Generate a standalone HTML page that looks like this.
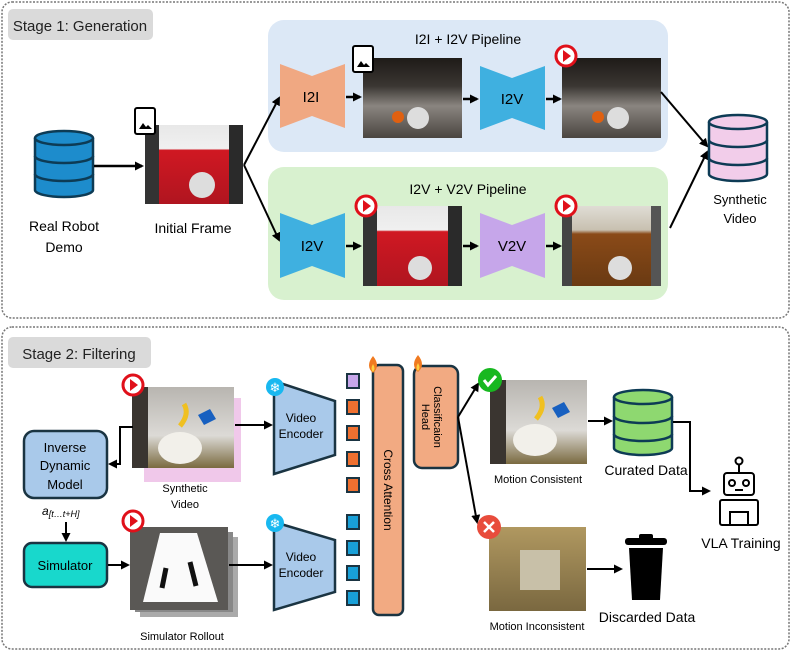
<!DOCTYPE html>
<html><head><meta charset="utf-8"><style>
body{margin:0;background:#fff}
svg text{font-family:"Liberation Sans",sans-serif}
</style></head><body>
<svg width="793" height="654" viewBox="0 0 793 654" xmlns="http://www.w3.org/2000/svg">
<defs>
<marker id="ah" markerWidth="9" markerHeight="9" refX="7" refY="4.5" orient="auto" markerUnits="userSpaceOnUse"><path d="M0,0 L9,4.5 L0,9 z" fill="#000"/></marker>
<linearGradient id="kit" x1="0" y1="0" x2="0" y2="1"><stop offset="0" stop-color="#1e1b18"/><stop offset="0.35" stop-color="#3a3632"/><stop offset="0.6" stop-color="#8a8580"/><stop offset="1" stop-color="#4a4540"/></linearGradient>
<linearGradient id="red" x1="0" y1="0" x2="0" y2="1"><stop offset="0" stop-color="#e8e8e8"/><stop offset="0.3" stop-color="#f0f0f0"/><stop offset="0.32" stop-color="#d01822"/><stop offset="1" stop-color="#b01520"/></linearGradient>
<linearGradient id="brown" x1="0" y1="0" x2="0" y2="1"><stop offset="0" stop-color="#e0ddd5"/><stop offset="0.3" stop-color="#c8c0b0"/><stop offset="0.35" stop-color="#8a4a18"/><stop offset="1" stop-color="#6a3a12"/></linearGradient>
<linearGradient id="tab" x1="0" y1="0" x2="0" y2="1"><stop offset="0" stop-color="#b8b5b0"/><stop offset="0.6" stop-color="#dcdad6"/><stop offset="1" stop-color="#7a6a40"/></linearGradient>
<linearGradient id="sand" x1="0" y1="0" x2="0" y2="1"><stop offset="0" stop-color="#b09860"/><stop offset="1" stop-color="#7a6840"/></linearGradient>
</defs>
<!-- Stage 1 -->
<rect x="2" y="2" width="787" height="316" rx="10" fill="#fff" stroke="#777" stroke-width="1.5" stroke-dasharray="2,1.5"/>
<rect x="8" y="9" width="145" height="31" rx="5" fill="#dadada"/>
<text x="80" y="31" font-size="15" text-anchor="middle" fill="#222">Stage 1: Generation</text>
<rect x="268" y="20" width="400" height="132" rx="16" fill="#dce8f6"/>
<rect x="268" y="167" width="400" height="133" rx="16" fill="#d8f1cf"/>
<text x="468" y="44" font-size="14" text-anchor="middle">I2I + I2V Pipeline</text>
<text x="468" y="194" font-size="14" text-anchor="middle">I2V + V2V Pipeline</text>
<!-- real robot db -->
<g stroke="#0d3b55" stroke-width="2.5" fill="#1d8ccc">
<path d="M35,138 v52 a29,7 0 0 0 58,0 v-52"/><ellipse cx="64" cy="138" rx="29" ry="7"/>
<path d="M35,156 a29,7 0 0 0 58,0 M35,174 a29,7 0 0 0 58,0" fill="none"/></g>
<text x="64" y="231" font-size="14" text-anchor="middle">Real Robot</text>
<text x="64" y="252" font-size="14" text-anchor="middle">Demo</text>
<line x1="94" y1="166" x2="142" y2="166" stroke="#000" stroke-width="2.5" marker-end="url(#ah)"/>
<rect x="145" y="125" width="98" height="79" fill="url(#red)"/>
<rect x="145" y="125" width="14" height="79" fill="#333"/><rect x="229" y="125" width="14" height="79" fill="#2a2a2a"/>
<ellipse cx="202" cy="185" rx="13" ry="13" fill="#ddd"/>
<rect x="135" y="108" width="20" height="26" rx="2" fill="#fff" stroke="#000" stroke-width="2"/><path d="M139,129 l4,-6 3,4 2,-2 4,4z" fill="#000"/>
<text x="193" y="233" font-size="14" text-anchor="middle">Initial Frame</text>
<line x1="244" y1="165" x2="279" y2="98" stroke="#000" stroke-width="2" marker-end="url(#ah)"/>
<line x1="244" y1="165" x2="279" y2="240" stroke="#000" stroke-width="2" marker-end="url(#ah)"/>
<!-- top row -->
<path d="M280,64 L312,76 L345,64 L345,128 L312,116 L280,128z" fill="#f0a882"/>
<text x="311" y="102" font-size="15" text-anchor="middle">I2I</text>
<line x1="346" y1="97" x2="360" y2="97" stroke="#000" stroke-width="2.5" marker-end="url(#ah)"/>
<rect x="363" y="58" width="99" height="80" fill="url(#kit)"/>
<circle cx="398" cy="117" r="6" fill="#e06010"/><circle cx="418" cy="118" r="11" fill="#ddd"/>
<rect x="353" y="46" width="20" height="26" rx="2" fill="#fff" stroke="#000" stroke-width="2"/><path d="M357,67 l4,-6 3,4 2,-2 4,4z" fill="#000"/>
<line x1="463" y1="99" x2="477" y2="99" stroke="#000" stroke-width="2.5" marker-end="url(#ah)"/>
<path d="M480,66 L512,78 L545,66 L545,130 L512,118 L480,130z" fill="#3fb0e0"/>
<text x="512" y="104" font-size="15" text-anchor="middle">I2V</text>
<line x1="546" y1="99" x2="560" y2="99" stroke="#000" stroke-width="2.5" marker-end="url(#ah)"/>
<rect x="562" y="58" width="99" height="80" fill="url(#kit)"/>
<circle cx="598" cy="117" r="6" fill="#e06010"/><circle cx="618" cy="118" r="11" fill="#ddd"/>
<!-- bottom row -->
<path d="M280,213 L312,225 L345,213 L345,278 L312,266 L280,278z" fill="#3fb0e0"/>
<text x="312" y="251" font-size="15" text-anchor="middle">I2V</text>
<line x1="346" y1="246" x2="360" y2="246" stroke="#000" stroke-width="2.5" marker-end="url(#ah)"/>
<rect x="363" y="206" width="99" height="80" fill="url(#red)"/>
<rect x="363" y="206" width="14" height="80" fill="#333"/><rect x="448" y="206" width="14" height="80" fill="#2a2a2a"/>
<circle cx="420" cy="268" r="12" fill="#ddd"/>
<line x1="463" y1="246" x2="477" y2="246" stroke="#000" stroke-width="2.5" marker-end="url(#ah)"/>
<path d="M480,213 L512,225 L545,213 L545,278 L512,266 L480,278z" fill="#c6a6ea"/>
<text x="512" y="251" font-size="15" text-anchor="middle">V2V</text>
<line x1="546" y1="246" x2="560" y2="246" stroke="#000" stroke-width="2.5" marker-end="url(#ah)"/>
<rect x="562" y="206" width="99" height="80" fill="url(#brown)"/>
<rect x="562" y="206" width="10" height="80" fill="#444"/><rect x="651" y="206" width="10" height="80" fill="#555"/>
<circle cx="620" cy="268" r="12" fill="#ddd"/>
<!-- play icons -->
<g><circle cx="566" cy="56" r="10" fill="#fff" stroke="#e0101a" stroke-width="3"/><path d="M563,50 l8,6 -8,6z" fill="#e0101a"/></g>
<g><circle cx="366" cy="206" r="10" fill="#fff" stroke="#e0101a" stroke-width="3"/><path d="M363,200 l8,6 -8,6z" fill="#e0101a"/></g>
<g><circle cx="566" cy="206" r="10" fill="#fff" stroke="#e0101a" stroke-width="3"/><path d="M563,200 l8,6 -8,6z" fill="#e0101a"/></g>
<line x1="661" y1="92" x2="707" y2="146" stroke="#000" stroke-width="2" marker-end="url(#ah)"/>
<line x1="670" y1="228" x2="707" y2="152" stroke="#000" stroke-width="2" marker-end="url(#ah)"/>
<g stroke="#0d3b55" stroke-width="2.5" fill="#f2cdea">
<path d="M709,122 v52 a29,7 0 0 0 58,0 v-52"/><ellipse cx="738" cy="122" rx="29" ry="7"/>
<path d="M709,140 a29,7 0 0 0 58,0 M709,158 a29,7 0 0 0 58,0" fill="none"/></g>
<text x="740" y="204" font-size="13" text-anchor="middle">Synthetic</text>
<text x="740" y="223" font-size="13" text-anchor="middle">Video</text>

<!-- Stage 2 -->
<rect x="2" y="327" width="787" height="322" rx="10" fill="#fff" stroke="#777" stroke-width="1.5" stroke-dasharray="2,1.5"/>
<rect x="8" y="337" width="143" height="31" rx="5" fill="#dadada"/>
<text x="79" y="359" font-size="15" text-anchor="middle" fill="#222">Stage 2: Filtering</text>
<rect x="144" y="398" width="97" height="84" fill="#f0c8ea"/>
<rect x="132" y="387" width="102" height="81" fill="url(#tab)"/>
<rect x="132" y="387" width="16" height="81" fill="#3a3530"/>
<ellipse cx="180" cy="448" rx="22" ry="16" fill="#f2f0ea"/>
<path d="M184,404 q6,10 -4,22" stroke="#f0c020" stroke-width="5" fill="none"/>
<path d="M198,415 l12,-6 6,10 -12,6z" fill="#1860c0"/>
<circle cx="133" cy="385" r="10" fill="#fff" stroke="#e0101a" stroke-width="3"/><path d="M130,379 l8,6 -8,6z" fill="#e0101a"/>
<text x="185" y="492" font-size="11" text-anchor="middle">Synthetic</text>
<text x="185" y="508" font-size="11" text-anchor="middle">Video</text>
<rect x="24" y="431" width="83" height="67" rx="10" fill="#a9c9ea" stroke="#1a3442" stroke-width="2.5"/>
<text x="65" y="452" font-size="13" text-anchor="middle">Inverse</text>
<text x="65" y="470" font-size="13" text-anchor="middle">Dynamic</text>
<text x="65" y="489" font-size="13" text-anchor="middle">Model</text>
<path d="M133,427 H120 V464 H110" stroke="#000" stroke-width="2" fill="none" marker-end="url(#ah)"/>
<text x="42" y="515" font-size="12" font-style="italic" font-family="Liberation Serif,serif">a<tspan font-size="9" dy="2">[t…t+H]</tspan></text>
<line x1="66" y1="522" x2="66" y2="540" stroke="#000" stroke-width="2" marker-end="url(#ah)"/>
<rect x="24" y="543" width="83" height="44" rx="8" fill="#18d8cc" stroke="#1a3442" stroke-width="2.5"/>
<text x="65" y="570" font-size="13" text-anchor="middle">Simulator</text>
<line x1="108" y1="565" x2="128" y2="565" stroke="#000" stroke-width="2" marker-end="url(#ah)"/>
<rect x="140" y="537" width="98" height="80" fill="#aaa"/>
<rect x="135" y="532" width="98" height="80" fill="#888"/>
<rect x="130" y="527" width="98" height="83" fill="#5a5855"/>
<path d="M160,533 H197 L218,602 H143z" fill="#fafafa"/>
<path d="M166,568 l-4,20 M190,562 l6,24" stroke="#111" stroke-width="5"/>
<circle cx="133" cy="521" r="10" fill="#fff" stroke="#e0101a" stroke-width="3"/><path d="M130,515 l8,6 -8,6z" fill="#e0101a"/>
<text x="182" y="640" font-size="11" text-anchor="middle">Simulator Rollout</text>
<line x1="235" y1="425" x2="271" y2="425" stroke="#000" stroke-width="2" marker-end="url(#ah)"/>
<line x1="229" y1="565" x2="271" y2="565" stroke="#000" stroke-width="2" marker-end="url(#ah)"/>
<path d="M274,381 L335,401 L335,455 L274,474z" fill="#a9c9ea" stroke="#1a3442" stroke-width="2.5"/>
<path d="M274,522 L335,540 L335,592 L274,610z" fill="#a9c9ea" stroke="#1a3442" stroke-width="2.5"/>
<text x="301" y="422" font-size="12" text-anchor="middle">Video</text><text x="301" y="438" font-size="12" text-anchor="middle">Encoder</text>
<text x="301" y="561" font-size="12" text-anchor="middle">Video</text><text x="301" y="577" font-size="12" text-anchor="middle">Encoder</text>
<g><circle cx="275" cy="387" r="9" fill="#18b8f0"/><text x="275" y="392" font-size="13" fill="#fff" text-anchor="middle">❄</text></g>
<g><circle cx="275" cy="523" r="9" fill="#18b8f0"/><text x="275" y="528" font-size="13" fill="#fff" text-anchor="middle">❄</text></g>
<g stroke="#1a3442" stroke-width="2">
<rect x="347" y="374" width="12" height="14" fill="#c6a6ea"/>
<rect x="347" y="400" width="12" height="14" fill="#ee7030"/><rect x="347" y="426" width="12" height="14" fill="#ee7030"/>
<rect x="347" y="452" width="12" height="14" fill="#ee7030"/><rect x="347" y="478" width="12" height="14" fill="#ee7030"/>
<rect x="347" y="515" width="12" height="14" fill="#18a0d8"/><rect x="347" y="541" width="12" height="14" fill="#18a0d8"/>
<rect x="347" y="566" width="12" height="14" fill="#18a0d8"/><rect x="347" y="591" width="12" height="14" fill="#18a0d8"/>
</g>
<rect x="373" y="365" width="30" height="250" rx="6" fill="#f2aa82" stroke="#1a3442" stroke-width="2.5"/>
<text transform="translate(384,490) rotate(90)" font-size="12" text-anchor="middle">Cross Attention</text>
<rect x="414" y="366" width="44" height="102" rx="8" fill="#f2aa82" stroke="#1a3442" stroke-width="2.5"/>
<text transform="translate(434,417) rotate(90)" font-size="11" text-anchor="middle">Classificaion</text>
<text transform="translate(422,417) rotate(90)" font-size="11" text-anchor="middle">Head</text>
<path d="M373,356 q-8,10 0,17 q8,-7 0,-17z M418,355 q-8,10 0,17 q8,-7 0,-17z" fill="#f07a20"/>
<path d="M373,364 q-3,5 0,8 q3,-3 0,-8z M418,363 q-3,5 0,8 q3,-3 0,-8z" fill="#fcd040"/>
<line x1="458" y1="417" x2="478" y2="384" stroke="#000" stroke-width="2" marker-end="url(#ah)"/>
<line x1="458" y1="417" x2="477" y2="522" stroke="#000" stroke-width="2" marker-end="url(#ah)"/>
<rect x="490" y="380" width="97" height="84" fill="url(#tab)"/>
<rect x="490" y="380" width="16" height="84" fill="#3a3530"/>
<ellipse cx="535" cy="440" rx="22" ry="16" fill="#f2f0ea"/>
<path d="M540,397 q6,10 -4,22" stroke="#f0c020" stroke-width="5" fill="none"/>
<path d="M552,408 l12,-6 6,10 -12,6z" fill="#1860c0"/>
<circle cx="490" cy="380" r="12" fill="#18b820"/><path d="M484,380 l4,5 8,-9" stroke="#fff" stroke-width="3" fill="none"/>
<text x="538" y="483" font-size="11" text-anchor="middle">Motion Consistent</text>
<rect x="489" y="527" width="97" height="84" fill="url(#sand)"/>
<rect x="520" y="550" width="40" height="40" fill="#c8c0a8"/>
<circle cx="489" cy="527" r="12" fill="#e84c3c"/><path d="M484,522 l10,10 M494,522 l-10,10" stroke="#fff" stroke-width="2.5"/>
<text x="537" y="630" font-size="11" text-anchor="middle">Motion Inconsistent</text>
<line x1="588" y1="421" x2="611" y2="421" stroke="#000" stroke-width="2" marker-end="url(#ah)"/>
<line x1="587" y1="569" x2="621" y2="569" stroke="#000" stroke-width="2" marker-end="url(#ah)"/>
<g stroke="#0d3b55" stroke-width="2.5" fill="#8ed870">
<path d="M614,397 v51 a29,7 0 0 0 58,0 v-51"/><ellipse cx="643" cy="397" rx="29" ry="7"/>
<path d="M614,416 a29,7 0 0 0 58,0 M614,434 a29,7 0 0 0 58,0" fill="none"/></g>
<text x="646" y="475" font-size="14" text-anchor="middle">Curated Data</text>
<path d="M673,422 H690 V491 H709" stroke="#000" stroke-width="2" fill="none" marker-end="url(#ah)"/>
<g fill="none" stroke="#000" stroke-width="2">
<circle cx="739" cy="461" r="3.5"/><line x1="739" y1="465" x2="739" y2="473"/>
<rect x="724" y="473" width="30" height="22" rx="3"/>
<circle cx="732" cy="483" r="3"/><circle cx="746" cy="483" r="3"/><line x1="735" y1="490" x2="743" y2="490"/>
<rect x="720" y="500" width="38" height="25" rx="2"/><rect x="730" y="512" width="18" height="13"/>
</g>
<text x="741" y="548" font-size="14" text-anchor="middle">VLA Training</text>
<rect x="625" y="538" width="42" height="7" rx="3" fill="#000"/><rect x="639" y="534" width="14" height="6" rx="2" fill="#000"/>
<path d="M629,548 H663 L660,600 H632z" fill="#000"/>
<text x="647" y="622" font-size="14" text-anchor="middle">Discarded Data</text>
</svg>
</body></html>
